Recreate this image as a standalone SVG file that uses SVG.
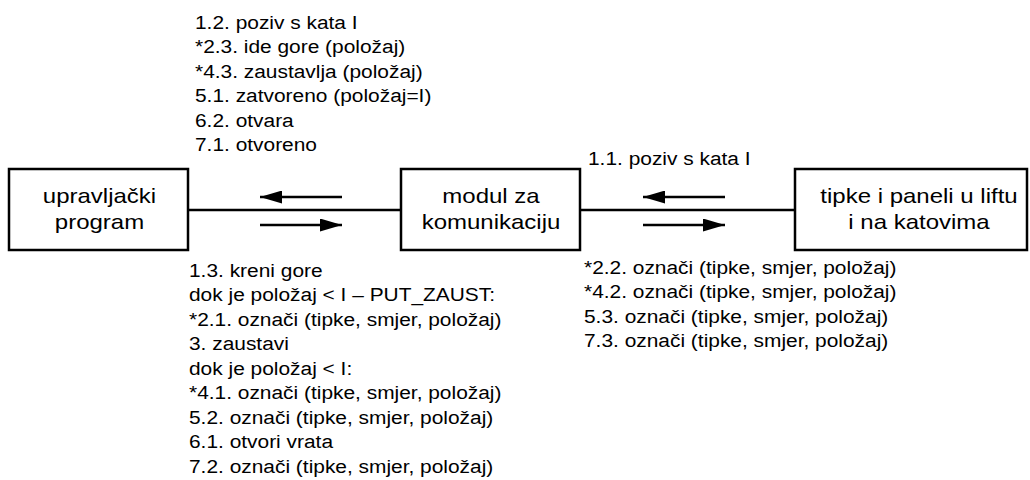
<svg xmlns="http://www.w3.org/2000/svg" width="1030" height="480" viewBox="0 0 1030 480">
<style>
text{font-family:"Liberation Sans",Arial,sans-serif;font-size:19px;fill:#000}
.bt{font-size:20px;text-anchor:middle}
.box{fill:#fff;stroke:#000;stroke-width:2.5}
.ln{stroke:#000;stroke-width:2.5;fill:none}
</style>
<defs>
<marker id="ah" viewBox="0 0 22 13" refX="22" refY="6.5" markerWidth="22" markerHeight="13" markerUnits="userSpaceOnUse" orient="auto"><path d="M0,0L22,6.5L0,13z" fill="#000"/></marker>
</defs>
<g id="connectors">
<line class="ln" x1="188" y1="210" x2="401" y2="210"/>
<line class="ln" x1="580" y1="210" x2="795" y2="210"/>
<line class="ln" x1="342" y1="197" x2="260" y2="197" marker-end="url(#ah)"/>
<line class="ln" x1="260" y1="225" x2="342" y2="225" marker-end="url(#ah)"/>
<line class="ln" x1="725" y1="197" x2="643" y2="197" marker-end="url(#ah)"/>
<line class="ln" x1="643" y1="225" x2="725" y2="225" marker-end="url(#ah)"/>
</g>
<g id="node-upravljacki">
<rect class="box" x="9" y="169" width="179" height="81"/>
<g transform="translate(99.5,0) scale(1.2,1)">
<text class="bt" x="0" y="203.5">upravljački</text>
<text class="bt" x="0" y="229">program</text>
</g>
</g>
<g id="node-modul">
<rect class="box" x="401" y="169" width="179" height="81"/>
<g transform="translate(491,0) scale(1.2,1)">
<text class="bt" x="0" y="203.5">modul za</text>
<text class="bt" x="0" y="229">komunikaciju</text>
</g>
</g>
<g id="node-tipke">
<rect class="box" x="795" y="169" width="232" height="81"/>
<g transform="translate(919,0) scale(1.2,1)">
<text class="bt" x="0" y="203.5">tipke i paneli u liftu</text>
<text class="bt" x="0" y="229">i na katovima</text>
</g>
</g>
<g id="labels">
<g transform="translate(195,0) scale(1.1,1)">
<text x="0" y="29">1.2. poziv s kata I</text>
<text x="0" y="53.5">*2.3. ide gore (položaj)</text>
<text x="0" y="78">*4.3. zaustavlja (položaj)</text>
<text x="0" y="102.5">5.1. zatvoreno (položaj=I)</text>
<text x="0" y="127">6.2. otvara</text>
<text x="0" y="151.5">7.1. otvoreno</text>
</g>
<g transform="translate(588,0) scale(1.1,1)">
<text x="0" y="165">1.1. poziv s kata I</text>
</g>
<g transform="translate(189,0) scale(1.1,1)">
<text x="0" y="277">1.3. kreni gore</text>
<text x="0" y="301.5">dok je položaj &lt; I – PUT_ZAUST:</text>
<text x="0" y="326">*2.1. označi (tipke, smjer, položaj)</text>
<text x="0" y="350.5">3. zaustavi</text>
<text x="0" y="375">dok je položaj &lt; I:</text>
<text x="0" y="399.5">*4.1. označi (tipke, smjer, položaj)</text>
<text x="0" y="424">5.2. označi (tipke, smjer, položaj)</text>
<text x="0" y="448.5">6.1. otvori vrata</text>
<text x="0" y="473">7.2. označi (tipke, smjer, položaj)</text>
</g>
<g transform="translate(584,0) scale(1.1,1)">
<text x="0" y="274">*2.2. označi (tipke, smjer, položaj)</text>
<text x="0" y="298.5">*4.2. označi (tipke, smjer, položaj)</text>
<text x="0" y="323">5.3. označi (tipke, smjer, položaj)</text>
<text x="0" y="347.5">7.3. označi (tipke, smjer, položaj)</text>
</g>
</g>
</svg>
